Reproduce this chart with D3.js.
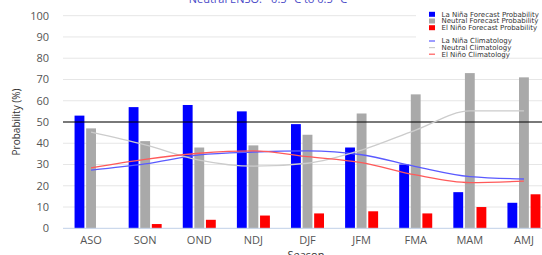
<!DOCTYPE html>
<html><head><meta charset="utf-8">
<script src="https://cdn.jsdelivr.net/npm/d3@7"></script>
<style>
html,body{margin:0;padding:0;background:#fff;overflow:hidden;}
svg{display:block;font-family:"Open Sans","Liberation Sans",sans-serif;}
</style></head>
<body>
<script>
const seasons = ["ASO","SON","OND","NDJ","DJF","JFM","FMA","MAM","AMJ"];
const laNina  = [53,57,58,55,49,38,30,17,12];
const neutral = [47,41,38,39,44,54,63,73,71];
const elNino  = [0,2,4,6,7,8,7,10,16];
const laNinaClim  = [27.4,30.3,34.5,35.9,36.4,34.6,29,24.3,23.2];
const neutralClim = [45.2,39.2,32.1,29.2,30.6,36.8,46.2,55.2,55.2];
const elNinoClim  = [28.4,32.4,35.3,36.4,33.7,30.9,25.1,21.5,22.2];
const yTicks = [0,10,20,30,40,50,60,70,80,90,100];
const seriesNames = ["La Niña Forecast Probability","Neutral Forecast Probability","El Niño Forecast Probability"];
const climNames = ["La Niña Climatology","Neutral Climatology","El Niño Climatology"];

(function(){
const W=542,H=255;
const svg=d3.select("body").append("svg").attr("width",W).attr("height",H);
const pl=64,pr=551,pt=15.7,pb=228.3;

const x0=d3.scaleBand().domain(seasons).range([pl,pr]).paddingInner(0.39).paddingOuter(0.195);
const xc=d3.scaleBand().domain(seasons).range([pl,pr]);
const x1=d3.scaleBand().domain([0,1,2]).range([0,x0.bandwidth()]).paddingInner(0.15);
const y=d3.scaleLinear().domain([0,100]).range([pb,pt]);

svg.append("g").selectAll("line").data(yTicks.filter(d=>d>0)).join("line")
  .attr("x1",pl-1).attr("x2",pr).attr("y1",d=>y(d)).attr("y2",d=>y(d))
  .attr("stroke","#e6e6e6").attr("stroke-width",1);

svg.append("g").selectAll("text").data(yTicks).join("text")
  .attr("x",49).attr("y",d=>y(d)).attr("dy","0.35em").attr("text-anchor","end")
  .attr("font-size",11).attr("fill","#555").text(d=>d);

const colors=["#0000ff","#a9a9a9","#ff0000"];
const data=[laNina,neutral,elNino];
data.forEach((arr,si)=>{
  svg.append("g").selectAll("rect").data(arr).join("rect")
    .attr("x",(d,i)=>x0(seasons[i])+x1(si)).attr("width",x1.bandwidth())
    .attr("y",d=>y(d)).attr("height",d=>y(0)-y(d))
    .attr("fill",colors[si]);
});

svg.append("line").attr("x1",pl-1).attr("x2",pr).attr("y1",y(0)).attr("y2",y(0))
  .attr("stroke","#c0d0e8").attr("stroke-width",1);

svg.append("line").attr("x1",pl-1).attr("x2",pr).attr("y1",y(50)).attr("y2",y(50))
  .attr("stroke","#000").attr("stroke-width",1.2);

const climColors=["#5a5aff","#cccccc","#ff5a5a"];
const line=d3.line().x((d,i)=>xc(seasons[i])+xc.bandwidth()/2).y(d=>y(d)).curve(d3.curveMonotoneX);
[laNinaClim,neutralClim,elNinoClim].forEach((arr,i)=>{
  svg.append("path").attr("d",line(arr)).attr("fill","none")
    .attr("stroke",climColors[i]).attr("stroke-width",1.3);
});

svg.append("g").selectAll("text").data(seasons).join("text")
  .attr("x",d=>xc(d)+xc.bandwidth()/2).attr("y",244).attr("text-anchor","middle")
  .attr("font-size",11).attr("fill","#555").text(d=>d);

svg.append("text").attr("transform","translate(20,122) rotate(-90)").attr("text-anchor","middle")
  .attr("font-size",10).attr("fill","#333").text("Probability (%)");
svg.append("text").attr("x",306).attr("y",259).attr("text-anchor","middle")
  .attr("font-size",11).attr("fill","#333").text("Season");

svg.append("text").attr("x",268).attr("y",3).attr("text-anchor","middle")
  .attr("font-size",11).attr("fill","#4a4ac8").text("Neutral ENSO: −0.5 °C to 0.5 °C");

const lg=svg.append("g");
lg.append("rect").attr("x",416).attr("y",8).attr("width",130).attr("height",49).attr("fill","#fff");
seriesNames.forEach((n,i)=>{
  const yy=14.3+i*6.7;
  lg.append("rect").attr("x",429).attr("y",yy-2.5).attr("width",6).attr("height",5).attr("fill",colors[i]);
  lg.append("text").attr("x",441.5).attr("y",yy).attr("dy","0.35em").attr("font-size",7)
    .attr("font-family","DejaVu Sans").attr("fill","#333").text(n);
});
climNames.forEach((n,i)=>{
  const yy=41+i*6.6;
  lg.append("line").attr("x1",429).attr("x2",435).attr("y1",yy).attr("y2",yy)
    .attr("stroke",climColors[i]).attr("stroke-width",1.2);
  lg.append("text").attr("x",441.5).attr("y",yy).attr("dy","0.35em").attr("font-size",7)
    .attr("font-family","DejaVu Sans").attr("fill","#333").text(n);
});
})();
</script>
</body></html>
